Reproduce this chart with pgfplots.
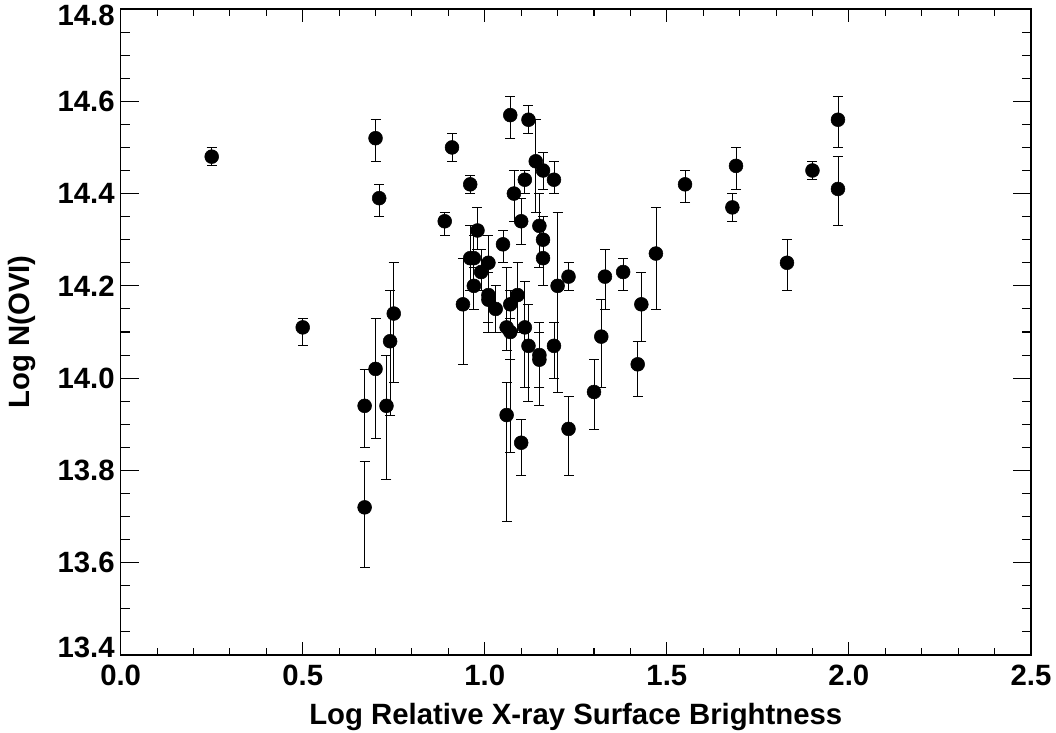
\documentclass[border=0pt]{standalone}
\usepackage{fontspec}
\setmainfont{Liberation Sans}
\usepackage{pgfplots}
\usepackage{pgfplotstable}
\pgfplotsset{compat=1.18}
\pgfplotstableread{
x y top bot
0.25 14.48 14.50 14.46
0.50 14.11 14.13 14.07
0.67 13.94 14.02 13.85
0.67 13.72 13.82 13.59
0.70 14.52 14.56 14.47
0.70 14.02 14.13 13.87
0.71 14.39 14.42 14.35
0.73 13.94 14.05 13.78
0.74 14.08 14.19 13.92
0.75 14.14 14.25 13.99
0.89 14.34 14.36 14.31
0.91 14.50 14.53 14.47
0.94 14.16 14.26 14.03
0.96 14.42 14.44 14.40
0.96 14.26 14.33 14.19
0.97 14.26 14.31 14.21
0.97 14.20 14.24 14.15
0.98 14.32 14.37 14.28
0.99 14.23 14.28 14.19
1.01 14.25 14.31 14.19
1.01 14.18 14.23 14.12
1.01 14.17 14.23 14.10
1.03 14.15 14.20 14.10
1.05 14.29 14.32 14.25
1.06 14.11 14.24 14.06
1.06 13.92 13.99 13.69
1.07 14.57 14.61 14.52
1.07 14.16 14.19 14.04
1.07 14.10 14.13 13.84
1.08 14.40 14.45 14.34
1.09 14.18 14.25 14.10
1.10 14.34 14.39 14.29
1.10 13.86 13.91 13.79
1.11 14.43 14.45 14.40
1.11 14.11 14.21 13.98
1.12 14.56 14.59 14.53
1.12 14.07 14.16 13.95
1.14 14.47 14.56 14.36
1.15 14.33 14.40 14.24
1.15 14.05 14.12 13.94
1.15 14.04 14.10 13.98
1.16 14.45 14.49 14.41
1.16 14.30 14.35 14.25
1.16 14.26 14.29 14.20
1.19 14.43 14.47 14.40
1.19 14.07 14.12 14.00
1.20 14.20 14.36 13.97
1.23 14.22 14.25 14.19
1.23 13.89 13.96 13.79
1.30 13.97 14.04 13.89
1.32 14.09 14.17 13.98
1.33 14.22 14.28 14.15
1.38 14.23 14.26 14.19
1.42 14.03 14.08 13.96
1.43 14.16 14.23 14.08
1.47 14.27 14.37 14.15
1.55 14.42 14.45 14.38
1.68 14.37 14.40 14.34
1.69 14.46 14.50 14.41
1.83 14.25 14.30 14.19
1.90 14.45 14.47 14.43
1.97 14.56 14.61 14.50
1.97 14.41 14.48 14.33
}\datatable
\begin{document}
\begin{tikzpicture}
\useasboundingbox (-90.5pt,-57.75pt) rectangle (701.5pt,491.25pt);
\begin{axis}[
  scale only axis,
  width=682.7pt, height=484.5pt,
  xmin=0, xmax=2.5, ymin=13.4, ymax=14.8,
  xtick={0,0.5,1,1.5,2,2.5},
  ytick={13.4,13.6,13.8,14.0,14.2,14.4,14.6,14.8},
  minor x tick num=4, minor y tick num=3,
  xticklabels={0.0,0.5,1.0,1.5,2.0,2.5},
  yticklabels={\raisebox{6pt}[\height][\depth]{13.4},13.6,13.8,14.0,14.2,14.4,14.6,\raisebox{-4.5pt}[\height][\depth]{14.8}},
  tick align=inside,
  axis line style={line width=0.9pt},
  every tick/.style={black, line width=0.8pt},
  major tick length=10pt, minor tick length=5pt,
  minor y tick style={/pgfplots/minor tick length=6.75pt},
  major y tick style={/pgfplots/major tick length=13.5pt},
  ticklabel style={font=\fontsize{22}{26}\selectfont\bfseries},
  xticklabel style={yshift=-4pt},
  yticklabel style={xshift=-1pt},
  label style={font=\fontsize{22}{26}\selectfont\bfseries},
  xlabel={Log Relative X-ray Surface Brightness},
  ylabel={Log N(OVI)},
  xlabel style={at={(axis description cs:0.5,-0.068)}, anchor=north},
  ylabel style={at={(axis description cs:-0.1084,0.5)}, anchor=center},
]
\addplot[only marks, mark=*, mark size=5.2pt, black,
  error bars/.cd, y dir=both, y explicit,
  error bar style={line width=0.6pt, black},
  error mark options={line width=0.6pt, black, mark size=3.75pt, rotate=90}]
  table[x=x, y=y,
    y error plus expr=\thisrow{top}-\thisrow{y},
    y error minus expr=\thisrow{y}-\thisrow{bot}] {\datatable};
\end{axis}
\end{tikzpicture}
\end{document}
